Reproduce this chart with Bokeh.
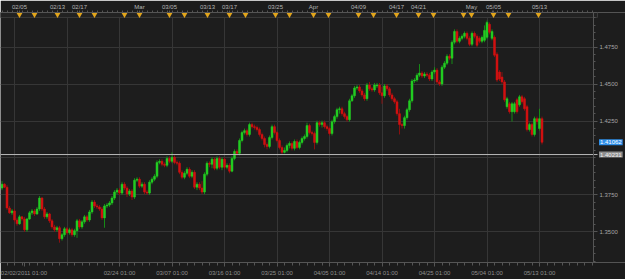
from bokeh.plotting import figure
from bokeh.models import (Range1d, FixedTicker, LinearAxis, Label, Grid,
                          BoxAnnotation, ColumnDataSource, NumeralTickFormatter)
from bokeh.embed import file_html
from bokeh.resources import INLINE

# ---------------- data (8-hour candles) ----------------
opens = [
    1.3796, 1.3822, 1.3802, 1.3661, 1.3628, 1.3641, 1.3580, 1.3554, 1.3601, 1.3587,
    1.3513, 1.3587, 1.3628, 1.3641, 1.3621, 1.3654, 1.3728, 1.3654, 1.3601, 1.3621,
    1.3574, 1.3533, 1.3513, 1.3527, 1.3453, 1.3480, 1.3520, 1.3493, 1.3513, 1.3480,
    1.3507, 1.3574, 1.3533, 1.3567, 1.3601, 1.3580, 1.3634, 1.3701, 1.3675, 1.3668,
    1.3654, 1.3594, 1.3675, 1.3681, 1.3695, 1.3728, 1.3769, 1.3782, 1.3762, 1.3822,
    1.3796, 1.3755, 1.3776, 1.3735, 1.3849, 1.3856, 1.3809, 1.3822, 1.3769, 1.3762,
    1.3836, 1.3856, 1.3876, 1.3970, 1.3977, 1.3957, 1.3950, 1.3997, 1.3977, 1.4004,
    1.3970, 1.3964, 1.3903, 1.3869, 1.3896, 1.3923, 1.3876, 1.3903, 1.3802, 1.3822,
    1.3796, 1.3769, 1.3890, 1.3964, 1.3957, 1.3991, 1.3930, 1.3997, 1.3937, 1.3991,
    1.3937, 1.3950, 1.3910, 1.3997, 1.4044, 1.4031, 1.4118, 1.4172, 1.4185, 1.4159,
    1.4226, 1.4212, 1.4206, 1.4192, 1.4159, 1.4132, 1.4091, 1.4078, 1.4138, 1.4212,
    1.4172, 1.4118, 1.4071, 1.4038, 1.4051, 1.4085, 1.4098, 1.4065, 1.4112, 1.4071,
    1.4105, 1.4132, 1.4145, 1.4219, 1.4172, 1.4165, 1.4105, 1.4239, 1.4226, 1.4239,
    1.4212, 1.4199, 1.4165, 1.4246, 1.4280, 1.4327, 1.4333, 1.4300, 1.4280, 1.4259,
    1.4387, 1.4421, 1.4474, 1.4481, 1.4454, 1.4427, 1.4401, 1.4494, 1.4468, 1.4461,
    1.4488, 1.4494, 1.4441, 1.4421, 1.4488, 1.4468, 1.4427, 1.4401, 1.4380, 1.4300,
    1.4226, 1.4219, 1.4273, 1.4327, 1.4387, 1.4521, 1.4528, 1.4561, 1.4575, 1.4555,
    1.4568, 1.4561, 1.4535, 1.4582, 1.4595, 1.4515, 1.4501, 1.4615, 1.4642, 1.4689,
    1.4676, 1.4784, 1.4857, 1.4790, 1.4810, 1.4824, 1.4844, 1.4810, 1.4770, 1.4844,
    1.4824, 1.4810, 1.4790, 1.4797, 1.4817, 1.4905, 1.4810, 1.4817, 1.4703, 1.4582,
    1.4548, 1.4515, 1.4347, 1.4367, 1.4313, 1.4313, 1.4394, 1.4360, 1.4414, 1.4401,
    1.4347, 1.4192, 1.4226, 1.4159, 1.4266, 1.4199, 1.4266,
]
highs = [
    1.3843, 1.3829, 1.3816, 1.3675, 1.3654, 1.3654, 1.3594, 1.3614, 1.3607, 1.3601,
    1.3594, 1.3641, 1.3654, 1.3654, 1.3668, 1.3742, 1.3735, 1.3668, 1.3634, 1.3628,
    1.3587, 1.3547, 1.3540, 1.3540, 1.3493, 1.3533, 1.3533, 1.3527, 1.3527, 1.3520,
    1.3587, 1.3587, 1.3580, 1.3614, 1.3614, 1.3648, 1.3715, 1.3715, 1.3688, 1.3681,
    1.3668, 1.3688, 1.3695, 1.3708, 1.3742, 1.3782, 1.3796, 1.3796, 1.3836, 1.3836,
    1.3809, 1.3789, 1.3789, 1.3863, 1.3869, 1.3869, 1.3836, 1.3836, 1.3782, 1.3849,
    1.3869, 1.3890, 1.3984, 1.3991, 1.3991, 1.3970, 1.4011, 1.4011, 1.4038, 1.4017,
    1.3984, 1.3977, 1.3917, 1.3910, 1.3937, 1.3937, 1.3917, 1.3917, 1.3836, 1.3836,
    1.3843, 1.3903, 1.3977, 1.3977, 1.4004, 1.4004, 1.4011, 1.4011, 1.4004, 1.4004,
    1.3964, 1.3964, 1.4011, 1.4058, 1.4058, 1.4132, 1.4185, 1.4199, 1.4199, 1.4239,
    1.4239, 1.4226, 1.4219, 1.4206, 1.4172, 1.4145, 1.4105, 1.4152, 1.4226, 1.4226,
    1.4185, 1.4132, 1.4085, 1.4071, 1.4098, 1.4112, 1.4112, 1.4125, 1.4125, 1.4118,
    1.4145, 1.4159, 1.4239, 1.4232, 1.4185, 1.4179, 1.4253, 1.4253, 1.4253, 1.4253,
    1.4226, 1.4212, 1.4259, 1.4293, 1.4340, 1.4347, 1.4347, 1.4313, 1.4293, 1.4401,
    1.4434, 1.4488, 1.4494, 1.4494, 1.4468, 1.4441, 1.4508, 1.4515, 1.4481, 1.4508,
    1.4508, 1.4508, 1.4481, 1.4501, 1.4501, 1.4481, 1.4441, 1.4414, 1.4394, 1.4333,
    1.4239, 1.4286, 1.4340, 1.4401, 1.4535, 1.4541, 1.4575, 1.4636, 1.4588, 1.4582,
    1.4582, 1.4575, 1.4595, 1.4615, 1.4609, 1.4528, 1.4629, 1.4656, 1.4703, 1.4703,
    1.4797, 1.4871, 1.4871, 1.4824, 1.4837, 1.4857, 1.4857, 1.4824, 1.4857, 1.4857,
    1.4837, 1.4824, 1.4830, 1.4898, 1.4931, 1.4918, 1.4871, 1.4830, 1.4716, 1.4595,
    1.4582, 1.4528, 1.4414, 1.4380, 1.4380, 1.4380, 1.4407, 1.4427, 1.4427, 1.4414,
    1.4360, 1.4239, 1.4239, 1.4280, 1.4280, 1.4333, 1.4280,
]
lows = [
    1.3782, 1.3796, 1.3648, 1.3621, 1.3614, 1.3567, 1.3540, 1.3547, 1.3574, 1.3500,
    1.3500, 1.3580, 1.3614, 1.3607, 1.3614, 1.3641, 1.3641, 1.3587, 1.3587, 1.3560,
    1.3520, 1.3500, 1.3500, 1.3426, 1.3440, 1.3466, 1.3480, 1.3480, 1.3466, 1.3466,
    1.3459, 1.3520, 1.3520, 1.3554, 1.3567, 1.3567, 1.3621, 1.3661, 1.3654, 1.3641,
    1.3580, 1.3527, 1.3661, 1.3668, 1.3681, 1.3715, 1.3755, 1.3749, 1.3749, 1.3782,
    1.3735, 1.3742, 1.3715, 1.3722, 1.3836, 1.3796, 1.3796, 1.3755, 1.3749, 1.3749,
    1.3822, 1.3843, 1.3863, 1.3957, 1.3943, 1.3937, 1.3937, 1.3964, 1.3964, 1.3957,
    1.3950, 1.3890, 1.3856, 1.3856, 1.3883, 1.3863, 1.3863, 1.3789, 1.3782, 1.3782,
    1.3755, 1.3755, 1.3876, 1.3937, 1.3930, 1.3917, 1.3917, 1.3923, 1.3917, 1.3923,
    1.3923, 1.3896, 1.3903, 1.3984, 1.4017, 1.4017, 1.4105, 1.4159, 1.4145, 1.4145,
    1.4199, 1.4192, 1.4179, 1.4145, 1.4118, 1.4071, 1.4058, 1.4065, 1.4125, 1.4159,
    1.4105, 1.4058, 1.4024, 1.4031, 1.4038, 1.4065, 1.4051, 1.4051, 1.4058, 1.4058,
    1.4091, 1.4118, 1.4132, 1.4159, 1.4152, 1.4058, 1.4091, 1.4212, 1.4206, 1.4199,
    1.4185, 1.4152, 1.4152, 1.4232, 1.4266, 1.4300, 1.4286, 1.4266, 1.4246, 1.4246,
    1.4380, 1.4407, 1.4461, 1.4441, 1.4414, 1.4387, 1.4387, 1.4454, 1.4448, 1.4448,
    1.4474, 1.4427, 1.4367, 1.4407, 1.4454, 1.4414, 1.4387, 1.4367, 1.4286, 1.4159,
    1.4199, 1.4199, 1.4259, 1.4313, 1.4374, 1.4508, 1.4515, 1.4548, 1.4541, 1.4541,
    1.4548, 1.4521, 1.4521, 1.4568, 1.4501, 1.4488, 1.4488, 1.4602, 1.4629, 1.4662,
    1.4636, 1.4770, 1.4777, 1.4777, 1.4797, 1.4810, 1.4797, 1.4757, 1.4757, 1.4810,
    1.4750, 1.4777, 1.4777, 1.4784, 1.4804, 1.4837, 1.4797, 1.4683, 1.4515, 1.4521,
    1.4501, 1.4380, 1.4333, 1.4300, 1.4246, 1.4300, 1.4300, 1.4347, 1.4367, 1.4320,
    1.4179, 1.4179, 1.4145, 1.4145, 1.4226, 1.4185, 1.4091,
]
closes = [
    1.3822, 1.3802, 1.3661, 1.3628, 1.3641, 1.3580, 1.3554, 1.3601, 1.3587, 1.3513,
    1.3587, 1.3628, 1.3641, 1.3621, 1.3654, 1.3728, 1.3654, 1.3601, 1.3621, 1.3574,
    1.3533, 1.3513, 1.3527, 1.3453, 1.3480, 1.3520, 1.3493, 1.3513, 1.3480, 1.3507,
    1.3574, 1.3533, 1.3567, 1.3601, 1.3580, 1.3634, 1.3701, 1.3675, 1.3668, 1.3654,
    1.3594, 1.3675, 1.3681, 1.3695, 1.3728, 1.3769, 1.3782, 1.3762, 1.3822, 1.3796,
    1.3755, 1.3776, 1.3735, 1.3849, 1.3856, 1.3809, 1.3822, 1.3769, 1.3762, 1.3836,
    1.3856, 1.3876, 1.3970, 1.3977, 1.3957, 1.3950, 1.3997, 1.3977, 1.4004, 1.3970,
    1.3964, 1.3903, 1.3869, 1.3896, 1.3923, 1.3876, 1.3903, 1.3802, 1.3822, 1.3796,
    1.3769, 1.3890, 1.3964, 1.3957, 1.3991, 1.3930, 1.3997, 1.3937, 1.3991, 1.3937,
    1.3950, 1.3910, 1.3997, 1.4044, 1.4031, 1.4118, 1.4172, 1.4185, 1.4159, 1.4226,
    1.4212, 1.4206, 1.4192, 1.4159, 1.4132, 1.4091, 1.4078, 1.4138, 1.4212, 1.4172,
    1.4118, 1.4071, 1.4038, 1.4051, 1.4085, 1.4098, 1.4065, 1.4112, 1.4071, 1.4105,
    1.4132, 1.4145, 1.4219, 1.4172, 1.4165, 1.4105, 1.4239, 1.4226, 1.4239, 1.4212,
    1.4199, 1.4165, 1.4246, 1.4280, 1.4327, 1.4333, 1.4300, 1.4280, 1.4259, 1.4387,
    1.4421, 1.4474, 1.4481, 1.4454, 1.4427, 1.4401, 1.4494, 1.4468, 1.4461, 1.4494,
    1.4494, 1.4441, 1.4421, 1.4488, 1.4468, 1.4427, 1.4401, 1.4380, 1.4300, 1.4226,
    1.4219, 1.4273, 1.4327, 1.4387, 1.4521, 1.4528, 1.4561, 1.4575, 1.4555, 1.4568,
    1.4561, 1.4535, 1.4582, 1.4595, 1.4515, 1.4501, 1.4615, 1.4642, 1.4689, 1.4676,
    1.4784, 1.4857, 1.4790, 1.4810, 1.4824, 1.4844, 1.4810, 1.4770, 1.4844, 1.4824,
    1.4763, 1.4790, 1.4817, 1.4864, 1.4918, 1.4851, 1.4857, 1.4696, 1.4528, 1.4535,
    1.4515, 1.4394, 1.4401, 1.4313, 1.4367, 1.4367, 1.4313, 1.4414, 1.4380, 1.4333,
    1.4192, 1.4226, 1.4159, 1.4266, 1.4246, 1.4266, 1.4106,
]

# bottom time axis (candle index -> label)
bottom_tick_idx = [8.8, 47, 68, 89, 110, 131, 152, 173, 194, 215]
bottom_tick_labels = ["02/02/2011 01:00", "02/24 01:00", "03/07 01:00", "03/16 01:00",
                      "03/25 01:00", "04/05 01:00", "04/14 01:00", "04/25 01:00",
                      "05/04 01:00", "05/13 01:00"]
grid_idx = [5, 26, 47, 68, 89, 110, 131, 152, 173, 194, 215]

# top event strip
top_label_idx = [7.0, 22.2, 31.0, 55.0, 67.0, 82.2, 91.0, 109.4, 124.6, 142.6,
                 157.8, 166.6, 187.8, 196.6, 215.0]
top_labels = ["02/05", "02/13", "02/17", "Mar", "03/05", "03/13", "03/17", "03/25",
              "Apr", "04/09", "04/17", "04/21", "May", "05/05", "05/13"]
marker_idx = [7.0, 13.0, 22.2, 31.0, 37.0, 49.0, 55.0, 67.0, 73.0, 82.2, 91.0, 97.4,
              109.4, 115.0, 124.6, 130.6, 142.6, 148.6, 157.8, 166.6, 172.6, 184.6,
              187.8, 196.6, 202.6, 214.6]

price_label_ticks = [1.35, 1.375, 1.425, 1.45, 1.475]
price_grid_ticks = [1.35, 1.375, 1.40, 1.425, 1.45, 1.475]
last_price = 1.41062
level_price = 1.40231

# ---------------- styling / layout constants ----------------
UP_BODY, UP_WICK = "#22cc22", "#168a16"
DN_BODY, DN_WICK = "#d01010", "#8a1010"
BG = "#1d1d1d"
BORDER = "#1b1b1b"
GRID = "#363636"
AXIS = "#555555"
FONT = "Liberation Sans"

X_LO, X_HI = -0.6, 249.4          # frame spans the whole width, 2.5 px per candle
AXIS_X = 236.6                     # where the price axis sits (x = 593 px)
Y_LO, Y_HI = 1.32918, 1.49852
STRIP_BOTTOM = 1.49516
MARKER_Y = 1.49718

n = len(closes)
xs = list(range(n))
ups = [c >= o for o, c in zip(opens, closes)]
tops = [max(o, c) for o, c in zip(opens, closes)]
bots = [min(o, c) if o != c else min(o, c) - 0.0001 for o, c in zip(opens, closes)]
src = ColumnDataSource(dict(
    x=xs, high=highs, low=lows, top=tops, bottom=bots,
    body=[UP_BODY if u else DN_BODY for u in ups],
    wick=[UP_WICK if u else DN_WICK for u in ups],
))

p = figure(width=625, height=279,
           x_range=Range1d(X_LO, X_HI), y_range=Range1d(Y_LO, Y_HI),
           y_axis_location=None, output_backend="svg", toolbar_location=None,
           min_border_left=0, min_border_right=0, min_border_top=10,
           min_border_bottom=17,
           background_fill_color=BG, border_fill_color=BORDER,
           outline_line_color=None)

# grids
xg = p.xgrid[0]
xg.ticker = FixedTicker(ticks=grid_idx)
xg.grid_line_color = GRID
if len(p.ygrid) > 0:
    yg = p.ygrid[0]
else:
    yg = Grid(dimension=1)
    p.add_layout(yg)
yg.ticker = FixedTicker(ticks=price_grid_ticks)
yg.grid_line_color = GRID
if "cross_bounds" in yg.properties():
    yg.cross_bounds = (X_LO, AXIS_X)
if "cross_bounds" in xg.properties():
    xg.cross_bounds = (Y_LO, STRIP_BOTTOM)

# top event strip
p.add_layout(BoxAnnotation(bottom=STRIP_BOTTOM, right=AXIS_X + 1.6, fill_color="#222222",
                           fill_alpha=1.0, line_color="#3a3a3a", line_alpha=1.0,
                           line_width=1, level="underlay"))

# candles
p.segment(x0="x", x1="x", y0="low", y1="high", source=src, line_color="wick",
          line_width=1)
p.vbar(x="x", width=0.8, top="top", bottom="bottom", source=src,
       fill_color="body", line_color="body", line_width=0.5)

# event markers
p.scatter(x=marker_idx, y=[MARKER_Y] * len(marker_idx), marker="inverted_triangle",
          size=6, fill_color="#e2a51c", line_color=None)

# horizontal level line (to the price axis)
p.segment(x0=[X_LO], x1=[AXIS_X + 1.6], y0=[level_price], y1=[level_price],
          line_color="#b8b8b8", line_width=1)

# bottom axis
xa = p.xaxis[0]
xa.ticker = FixedTicker(ticks=bottom_tick_idx, minor_ticks=list(range(-1, 237, 3)))
xa.major_label_overrides = dict(zip(bottom_tick_idx, bottom_tick_labels))
xa.bounds = (X_LO, AXIS_X + 1.6)
xa.major_label_text_font = FONT
xa.major_label_text_font_size = "6px"
xa.major_label_text_color = "#8e8e8e"
xa.axis_line_color = AXIS
xa.major_tick_line_color = AXIS
xa.minor_tick_line_color = AXIS
xa.major_tick_out = 4
xa.major_tick_in = 0
xa.minor_tick_out = 3
xa.minor_tick_in = 0
xa.major_label_standoff = 3

# right price axis, fixed at x = 593 px
ya = LinearAxis(fixed_location=AXIS_X,
                ticker=FixedTicker(ticks=price_label_ticks,
                                   minor_ticks=[1.33 + 0.005 * k for k in range(35)]),
                formatter=NumeralTickFormatter(format="0.0000"))
ya.major_label_text_font = FONT
ya.major_label_text_font_size = "6px"
ya.major_label_text_color = "#a6a6a6"
ya.axis_line_color = AXIS
ya.major_tick_line_color = AXIS
ya.minor_tick_line_color = AXIS
ya.major_tick_out = 4
ya.major_tick_in = 0
ya.minor_tick_out = 2
ya.minor_tick_in = 0
ya.major_label_standoff = 2
p.add_layout(ya, "right")

# top event axis
ta = LinearAxis(ticker=FixedTicker(ticks=top_label_idx,
                                   minor_ticks=list(range(0, 237, 2))))
ta.major_label_overrides = dict(zip(top_label_idx, top_labels))
ta.bounds = (X_LO, AXIS_X + 1.6)
ta.major_label_text_font = FONT
ta.major_label_text_font_size = "6px"
ta.major_label_text_color = "#b5b5b5"
ta.axis_line_color = AXIS
ta.major_tick_line_color = AXIS
ta.minor_tick_line_color = AXIS
ta.major_tick_out = 2
ta.major_tick_in = 0
ta.minor_tick_out = 2
ta.minor_tick_in = 0
ta.major_label_standoff = 1
p.add_layout(ta, "above")

# price boxes on the right axis
box_x = AXIS_X + 2.2
p.add_layout(Label(x=box_x, y=last_price, text=f"{last_price:.5f}",
                   text_font=FONT, text_font_size="6px", text_color="#ffffff",
                   text_align="left", text_baseline="middle",
                   background_fill_color="#2f8fe8", background_fill_alpha=1.0,
                   padding=1))
p.add_layout(Label(x=box_x, y=level_price, text=f"{level_price:.5f}",
                   text_font=FONT, text_font_size="6px", text_color="#f2f2f2",
                   text_align="left", text_baseline="middle",
                   background_fill_color="#8e8e8e", background_fill_alpha=1.0,
                   padding=1))

open("out.html", "w").write(file_html(p, INLINE))
